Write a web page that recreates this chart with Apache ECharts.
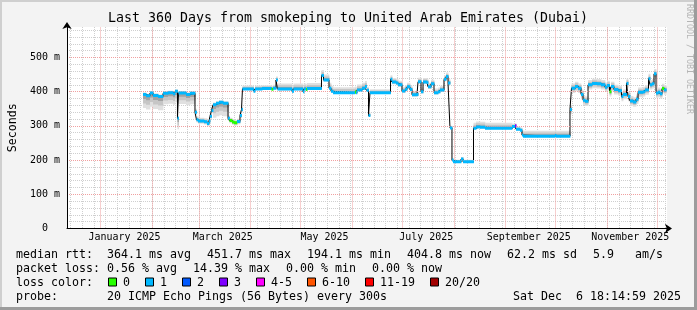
<!DOCTYPE html>
<html><head><meta charset="utf-8">
<script src="https://cdn.jsdelivr.net/npm/echarts@6/dist/echarts.min.js"></script>
<style>html,body{margin:0;padding:0;background:#f3f3f3}#c{width:697px;height:310px}</style>
</head><body><div id="c"></div>
<script>
// ---------------- data ----------------
const dates = ['2025-01-26T09','2025-01-28T04','2025-01-30T13','2025-02-01T09','2025-02-04T09','2025-02-07T09','2025-02-10T09','2025-02-13T09','2025-02-14T13','2025-02-16T01',
'2025-02-16T16','2025-02-21T04','2025-02-23T13','2025-02-26T13','2025-02-27T11','2025-02-28T09','2025-03-03T23','2025-03-05T18','2025-03-06T23','2025-03-07T13',
'2025-03-08T11','2025-03-09T09','2025-03-11T04','2025-03-12T23','2025-03-15T09','2025-03-18T09','2025-03-19T06','2025-03-20T18','2025-03-21T23','2025-03-23T18',
'2025-03-25T13','2025-03-26T11','2025-03-27T01','2025-04-02T16','2025-04-03T13','2025-04-07T18','2025-04-13T11','2025-04-14T09','2025-04-16T04','2025-04-17T01',
'2025-04-25T18','2025-04-26T16','2025-05-02T09','2025-05-02T23','2025-05-04T04','2025-05-04T18','2025-05-13T11','2025-05-14T16','2025-05-17T23','2025-05-19T04',
'2025-05-20T09','2025-06-02T13','2025-06-03T04','2025-06-03T18','2025-06-06T18','2025-06-08T13','2025-06-09T11','2025-06-10T16','2025-06-11T13','2025-06-23T21',
'2025-06-24T18','2025-06-27T04','2025-06-28T09','2025-06-30T18','2025-07-02T13','2025-07-03T18','2025-07-05T13','2025-07-06T18','2025-07-09T18','2025-07-10T09',
'2025-07-12T04','2025-07-13T09','2025-07-15T18','2025-07-16T09','2025-07-18T04','2025-07-19T23','2025-07-22T09','2025-07-23T13','2025-07-25T23','2025-07-27T04',
'2025-07-28T09','2025-07-29T13','2025-07-30T18','2025-07-31T09','2025-08-05T04','2025-08-06T09','2025-08-12T16','2025-08-14T04','2025-08-16T13','2025-08-19T13',
'2025-09-04T18','2025-09-06T13','2025-09-07T04','2025-09-09T13','2025-09-10T18','2025-09-11T09','2025-09-30T13','2025-10-01T04','2025-10-09T13','2025-10-10T11',
'2025-10-12T13','2025-10-14T09','2025-10-16T04','2025-10-17T09','2025-10-18T13','2025-10-20T09','2025-10-22T18','2025-10-25T18','2025-10-28T04','2025-10-30T13',
'2025-10-31T18','2025-11-02T06','2025-11-03T04','2025-11-04T23','2025-11-07T09','2025-11-09T11','2025-11-10T09','2025-11-12T11','2025-11-13T09','2025-11-14T13',
'2025-11-16T09','2025-11-18T04','2025-11-19T09','2025-11-22T09','2025-11-23T13','2025-11-25T16','2025-11-26T13','2025-11-27T18','2025-11-28T23','2025-11-30T04',
'2025-12-01T09','2025-12-02T13','2025-12-03T18','2025-12-04T23'];
const lastDate = '2025-12-06T06';
const medianRtt = [392,388,396,389,386,395,397,394,401,322,
396,392,395,340,318,314,312,307,314,328,
345,362,366,369,366,322,316,311,309,313,
330,348,408,401,408,409,407,410,434,408,
401,408,400,408,406,409,447,434,410,401,
397,399,397,405,410,415,404,330,397,436,
428,425,420,402,407,414,406,391,392,429,
400,428,426,414,423,397,400,405,436,444,
425,294,200,195,203,195,293,297,296,293,
298,300,290,287,273,270,272,270,348,410,
415,410,392,375,372,420,424,423,420,413,
418,400,415,406,403,386,392,424,386,373,
370,378,398,400,405,438,420,423,452,396,
398,394,409,405];
const lostPings = [1,1,1,1,1,1,1,1,1,1,
1,1,1,1,1,1,1,1,1,1,
1,1,1,1,1,1,0,0,0,1,
1,1,1,1,1,1,0,1,1,1,
1,1,1,1,0,1,1,1,1,1,
1,0,1,1,1,1,1,1,1,1,
1,1,1,1,1,1,1,1,1,1,
1,1,1,1,1,1,1,1,1,1,
1,1,1,1,1,1,1,1,1,1,
1,3,1,1,1,1,1,1,1,1,
1,1,1,1,1,1,1,1,1,1,
1,0,1,1,1,1,1,1,1,1,
1,1,1,1,1,1,1,1,1,1,
1,1,0,1];
// smoke spread (ms below / above median), valid from each date on
const smokeDates = ['2025-01-26T09','2025-02-05T00','2025-02-26T13','2025-03-09T00','2025-03-18T09','2025-03-27T01','2025-04-17T01','2025-05-20T09','2025-06-09T11','2025-06-23T21','2025-07-29T13','2025-08-12T16','2025-09-04T18','2025-09-10T18','2025-10-09T13'];
const smokeDown = [40,32,8,38,8,3,4,3,3,6,3,3,3,2,14];
const smokeUp   = [6,6,10,6,8,10,16,16,10,12,6,16,8,16,14];

const monthStarts = ['2025-01-01T00','2025-02-01T00','2025-03-01T00','2025-04-01T00','2025-05-01T00','2025-06-01T00','2025-07-01T00','2025-08-01T00','2025-09-01T00','2025-10-01T00','2025-11-01T00','2025-12-01T00'];
const xLabels = ['January 2025','March 2025','May 2025','July 2025','September 2025','November 2025'];
const xLabelDates = ['2025-01-15T06','2025-03-15T06','2025-05-15T06','2025-07-15T06','2025-09-14T18','2025-11-14T18'];
const yMajor = [0,100,200,300,400,500];
const yMinorStep = 20;
const Y_MAX = 589;

const titleText = 'Last 360 Days from smokeping to United Arab Emirates (Dubai)';
const rttStats = ['364.1 ms avg','451.7 ms max','194.1 ms min','404.8 ms now','62.2 ms sd','5.9   am/s'];
const lossStats = ['0.56 % avg','14.39 % max','0.00 % min','0.00 % now'];
const lossLabels = ['0','1','2','3','4-5','6-10','11-19','20/20'];
const lossColors = ['#26ff00','#00b8ff','#0059ff','#7e00ff','#ff00ff','#ff5500','#ff0000','#a10000'];
const probeText = '20 ICMP Echo Pings (56 Bytes) every 300s';
const stampText = 'Sat Dec  6 18:14:59 2025';

// ---------------- helpers ----------------
const ts = s => Date.parse(s + ':00:00Z');
const T0 = Date.UTC(2024, 11, 11, 18, 15);
const T1 = Date.UTC(2025, 11, 6, 18, 15);
const DAY = 864e5;
function lossColor(n){ if(n<=3) return lossColors[n]; if(n<=5) return lossColors[4]; if(n<=10) return lossColors[5]; if(n<=19) return lossColors[6]; return lossColors[7]; }

const tStarts = dates.map(ts);
const tEnds = tStarts.slice(1).concat([ts(lastDate)]);
const sT = smokeDates.map(ts);
function smokeAt(t){ let k=0; for(let i=0;i<sT.length;i++){ if(sT[i]<=t) k=i; } return k; }
const segData = tStarts.map((t,i)=>{ const k=smokeAt(t); return [t, tEnds[i], medianRtt[i], smokeDown[k], smokeUp[k], lostPings[i]]; });
const lineData = tStarts.map((t,i)=>[t, medianRtt[i]]).concat([[ts(lastDate), medianRtt[medianRtt.length-1]]]);

const lblT = xLabelDates.map(ts);
const monthT = monthStarts.map(ts);
const MINOR_C = '#cfcfcf', MAJOR_C = '#f0a0a0';
const weekly = []; for(let t=Date.UTC(2024,11,14); t<T1; t+=7*DAY) weekly.push(t);
const yMinor = []; for(let v=yMinorStep; v<Y_MAX; v+=yMinorStep) if(v%100) yMinor.push(v);

const MONO = 'DejaVu Sans Mono';
const CH = 7, FS = 11.63;

// ---------------- graphic (title, legend, frame) ----------------
const g = [];
g.push({type:'rect', shape:{x:0,y:0,width:697,height:2}, style:{fill:'#cfcfcf'}, silent:true});
g.push({type:'rect', shape:{x:0,y:0,width:2,height:310}, style:{fill:'#cfcfcf'}, silent:true});
g.push({type:'rect', shape:{x:0,y:307,width:697,height:3}, style:{fill:'#9c9c9c'}, silent:true});
g.push({type:'rect', shape:{x:694,y:0,width:3,height:310}, style:{fill:'#9c9c9c'}, silent:true});
g.push({type:'text', x:348, y:19, style:{text:titleText, font:`13.29px "${MONO}"`, fill:'#000', textAlign:'center', textVerticalAlign:'middle'}});
g.push({type:'text', x:689, y:59, rotation:-Math.PI/2, style:{text:'RRDTOOL / TOBI OETIKER', font:`8.3px "${MONO}"`, fill:'#b4b4b4', textAlign:'center', textVerticalAlign:'middle'}});
const rows = [254.5, 268.5, 282.5, 296.5];
function txt(x,y,s,align){ g.push({type:'text', x, y, style:{text:s, font:`${FS}px "${MONO}"`, fill:'#000', textAlign:align||'left', textVerticalAlign:'middle'}}); }
txt(16, rows[0], 'median rtt:');
let x = 107; rttStats.forEach(s=>{ txt(x, rows[0], s); x += s.length*CH + 16; });
txt(16, rows[1], 'packet loss:');
x = 107; lossStats.forEach(s=>{ txt(x, rows[1], s); x += s.length*CH + 16; });
txt(16, rows[2], 'loss color:');
x = 108; lossLabels.forEach((s,i)=>{
  g.push({type:'rect', shape:{x:x+0.5, y:rows[2]-4.5, width:8, height:8}, style:{fill:lossColors[i], stroke:'#000', lineWidth:1}});
  txt(x+15, rows[2], s); x += 15 + s.length*CH + 15; });
txt(16, rows[3], 'probe:');
txt(107, rows[3], probeText);
txt(681, rows[3], stampText, 'right');

// ---------------- chart ----------------
const chart = echarts.init(document.getElementById('c'), null, {renderer:'canvas'});
const gridStyleMinor = {color:MINOR_C, type:[1,1], width:1};
const gridStyleMajor = {color:MAJOR_C, type:[1,1], width:1};

function renderSmoke(params, api){
  const t0=api.value(0), t1=api.value(1), m=api.value(2), dn=api.value(3), up=api.value(4);
  const layers=[[1,'#e0e0e0'],[0.66,'#c6c6c6'],[0.33,'#a2a2a2']];
  const ch=[];
  layers.forEach(([f,c])=>{
    const p0=api.coord([t0, m+up*f]), p1=api.coord([t1, m-dn*f]);
    ch.push({type:'rect', shape:{x:p0[0], y:p0[1], width:p1[0]-p0[0]+0.4, height:p1[1]-p0[1]}, style:{fill:c}});
  });
  return {type:'group', children:ch};
}
function renderMedian(params, api){
  const t0=api.value(0), t1=api.value(1), m=api.value(2), n=api.value(5);
  const p0=api.coord([t0,m]), p1=api.coord([t1,m]);
  return {type:'rect', shape:{x:p0[0], y:p0[1]-1.5, width:p1[0]-p0[0]+0.4, height:3}, style:{fill:lossColor(n)}};
}

chart.setOption({
  animation:false,
  backgroundColor:'#f3f3f3',
  textStyle:{fontFamily:MONO},
  grid:{left:67, right:30, top:27, bottom:81.5, show:true, backgroundColor:'#ffffff', borderWidth:0, containLabel:false, outerBoundsMode:'none'},
  xAxis:[
    {type:'value', min:T0, max:T1, position:'bottom', z:4,
     axisLine:{show:true, lineStyle:{color:'#000', width:1}, symbol:['none','arrow'], symbolSize:[7,7], symbolOffset:[0,5]},
     axisTick:{show:false, customValues:lblT},
     axisLabel:{show:true, customValues:lblT, margin:4, fontFamily:MONO, fontSize:9.97, color:'#000',
       formatter:v=>{ let b=0,d=Infinity; lblT.forEach((t,i)=>{ if(Math.abs(t-v)<d){d=Math.abs(t-v); b=i;} }); return xLabels[b]; }},
     splitLine:{show:false}},
    {type:'value', min:T0, max:T1, position:'top', z:1,
     axisLine:{show:false}, axisTick:{show:false, customValues:weekly}, axisLabel:{show:false, customValues:weekly},
     splitLine:{show:true, lineStyle:gridStyleMinor}}
  ],
  yAxis:[
    {type:'value', min:0, max:Y_MAX, position:'left', z:4,
     name:'Seconds', nameLocation:'middle', nameGap:48, nameRotate:90,
     nameTextStyle:{fontFamily:MONO, fontSize:FS, color:'#000'},
     axisLine:{show:true, lineStyle:{color:'#000', width:1}, symbol:['none','arrow'], symbolSize:[7,7], symbolOffset:[0,5]},
     axisTick:{show:false, customValues:yMajor},
     axisLabel:{show:true, customValues:yMajor, margin:7, fontFamily:MONO, fontSize:9.97, color:'#000',
       formatter:v=> v===0 ? '0  ' : v+' m'},
     splitLine:{show:true, lineStyle:gridStyleMajor}},
    {type:'value', min:0, max:Y_MAX, position:'right', z:1,
     axisLine:{show:false}, axisTick:{show:false, customValues:yMinor}, axisLabel:{show:false, customValues:yMinor},
     splitLine:{show:true, lineStyle:gridStyleMinor}}
  ],
  series:[
    {type:'custom', name:'smoke', xAxisIndex:0, yAxisIndex:0, z:2, clip:true, renderItem:renderSmoke,
     dimensions:['t0','t1','median','down','up','loss'],
     encode:{x:[0,1], y:[2]}, data:segData},
    {type:'line', name:'median', xAxisIndex:0, yAxisIndex:0, z:3, step:'end', showSymbol:false, symbol:'none',
     lineStyle:{color:'#000', width:1}, data:lineData,
     markLine:{silent:true, z:1, symbol:['none','none'], label:{show:false}, animation:false,
       lineStyle:{color:MAJOR_C, type:[1,1], width:1},
       data: monthT.map(t=>({xAxis:t}))}},
    {type:'custom', name:'loss', xAxisIndex:0, yAxisIndex:0, z:4, clip:true, renderItem:renderMedian,
     dimensions:['t0','t1','median','down','up','loss'],
     encode:{x:[0,1], y:[2]}, data:segData}
  ],
  graphic:g
});
</script></body></html>
